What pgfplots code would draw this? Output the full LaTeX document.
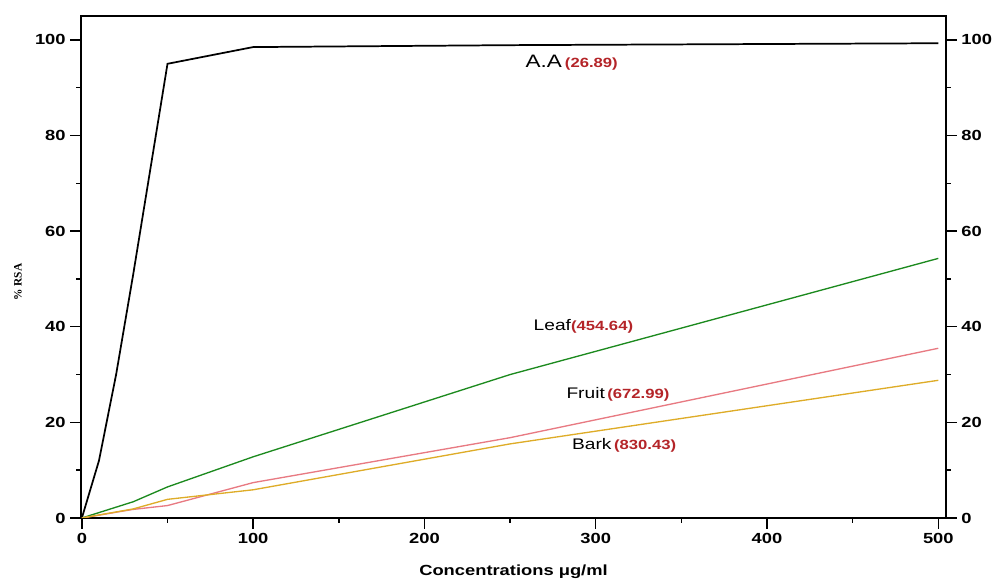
\documentclass[border=0pt]{standalone}
\usepackage{fontspec}
\setmainfont[FakeStretch=1.25]{Liberation Sans}
\newfontfamily\serifb{Liberation Serif}
\usepackage{pgfplots}
\pgfplotsset{compat=1.18}

\definecolor{leafgreen}{RGB}{28,138,30}
\definecolor{fruitpink}{RGB}{232,122,130}
\definecolor{barkgold}{RGB}{222,172,40}
\definecolor{icred}{RGB}{180,36,40}

\newcommand{\ic}[1]{{\color{icred}\bfseries\fontsize{10}{11}\selectfont(#1)}}

\pgfplotsset{
  rsabase/.style={
    width=648.75pt, height=376.5pt, scale only axis,
    xmin=-0.5, xmax=504.5, ymin=0, ymax=105,
    axis line style={line width=1.2pt},
    tick align=outside,
    major tick length=8pt, minor tick length=3.5pt,
    every tick/.append style={black, line width=1.1pt},
    tick label style={font=\bfseries\fontsize{11}{12}\selectfont},
    /pgf/number format/assume math mode=true,
    ytick={0,20,...,100}, minor y tick num=1,
    xtick={0,100,...,500}, minor x tick num=1,
  }
}

\begin{document}
\begin{tikzpicture}
\begin{axis}[
  rsabase,
  xtick pos=left, ytick pos=both, yticklabel pos=left,
  xlabel={\bfseries\fontsize{11}{12}\selectfont Concentrations μg/ml},
  xlabel style={anchor=center, at={(rel axis cs:0.5,0)}, yshift=-40.5pt},
]
\coordinate (sw) at (rel axis cs:0,0);
\coordinate (ne) at (rel axis cs:1,1);
\coordinate (ylab) at (rel axis cs:0,0.47);

% ascorbic acid standard
\addplot[black, line width=1.3pt] coordinates {
  (0,0) (10,12) (20,30) (30,51) (50,95) (100,98.5) (250,98.9) (500,99.3)};
% leaf extract
\addplot[leafgreen, line width=1pt] coordinates {
  (0,0) (30,3.4) (50,6.5) (100,12.8) (250,30) (500,54.3)};
% fruit extract
\addplot[fruitpink, line width=1pt] coordinates {
  (0,0) (30,1.8) (50,2.6) (100,7.4) (250,16.8) (500,35.5)};
% bark extract
\addplot[barkgold, line width=1pt] coordinates {
  (0,0) (30,1.9) (50,3.9) (100,5.9) (250,15.5) (500,28.8)};

% IC50 annotations
\node[anchor=center] at (axis cs:286,95.3) {\fontsize{13.5}{15}\selectfont A.A\,\ic{26.89}};
\node[anchor=center] at (axis cs:292.8,40) {\fontsize{11.5}{13}\selectfont Leaf\ic{454.64}};
\node[anchor=center] at (axis cs:313,25.9) {\fontsize{11.5}{13}\selectfont Fruit\,\ic{672.99}};
\node[anchor=center] at (axis cs:316.6,15.1) {\fontsize{11.5}{13}\selectfont Bark\,\ic{830.43}};
\end{axis}

% right-hand tick labels
\begin{axis}[
  rsabase,
  hide x axis,
  axis y line*=right,
  ytick pos=right, yticklabel pos=right,
]
\end{axis}

% y-axis title
\node[rotate=90, anchor=center] at ([xshift=-47.25pt]ylab)
  {\serifb\bfseries\fontsize{8.5}{10}\selectfont \% RSA};

\pgfresetboundingbox
\path ([xshift=-60.75pt,yshift=-47.25pt]sw) rectangle ([xshift=42pt,yshift=12pt]ne);
\end{tikzpicture}
\end{document}
